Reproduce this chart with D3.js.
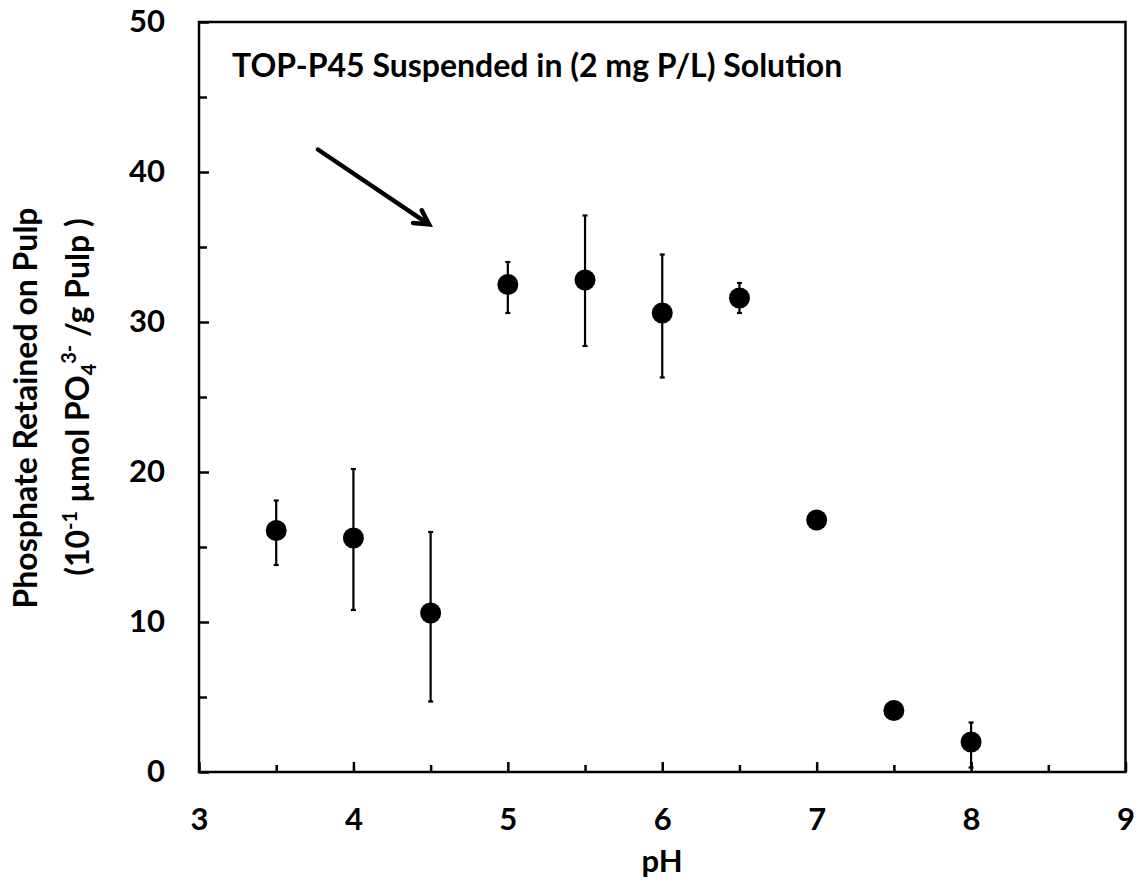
<!DOCTYPE html>
<html>
<head>
<meta charset="utf-8">
<script src="https://cdn.jsdelivr.net/npm/d3@7"></script>
<style>
  html, body { margin: 0; padding: 0; background: #fff; }
  svg text { font-family: "Lato", "Open Sans", sans-serif; font-weight: bold; fill: #000; }
</style>
</head>
<body>
<svg id="chart" width="1143" height="882"></svg>
<script>
// ---- data ----
const pH        = [3.5, 4.0, 4.5, 5.0, 5.5, 6.0, 6.5, 7.0, 7.5, 8.0];
const retained  = [16.1, 15.6, 10.6, 32.5, 32.8, 30.6, 31.6, 16.8, 4.1, 2.0];
const errUp     = [2.0, 4.6, 5.4, 1.5, 4.3, 3.9, 1.0, 0, 0, 1.3];
const errDown   = [2.3, 4.8, 5.9, 1.9, 4.4, 4.3, 1.0, 0, 0, 1.7];
const xTicks      = [3, 4, 5, 6, 7, 8, 9];
const xMinorTicks = [3.5, 4.5, 5.5, 6.5, 7.5, 8.5];
const yTicks      = [0, 10, 20, 30, 40, 50];
const yMinorTicks = [5, 15, 25, 35, 45];
const titleText = "TOP-P45 Suspended in (2 mg P/L) Solution";
const xTitle = "pH";
const arrowFrom = [3.77, 41.5];
const arrowTo   = [4.49, 36.5];

// ---- layout ----
const svg = d3.select("#chart");
const L = 199, R = 1125.5, T = 22, B = 772;
const x = d3.scaleLinear().domain([3, 9]).range([L, R]);
const y = d3.scaleLinear().domain([0, 50]).range([B, T]);

const tickFont = 31;

// minor ticks
svg.append("g").attr("transform", `translate(0,${B})`)
  .call(d3.axisBottom(x).tickValues(xMinorTicks).tickSize(-7).tickFormat(""))
  .call(g => g.select(".domain").remove())
  .call(g => g.selectAll("line").attr("stroke", "#000").attr("stroke-width", 2.5));
svg.append("g").attr("transform", `translate(${L},0)`)
  .call(d3.axisLeft(y).tickValues(yMinorTicks).tickSize(-8).tickFormat(""))
  .call(g => g.select(".domain").remove())
  .call(g => g.selectAll("line").attr("stroke", "#000").attr("stroke-width", 2.5));

// major ticks
svg.append("g").attr("transform", `translate(0,${B})`)
  .call(d3.axisBottom(x).tickValues(xTicks).tickSizeInner(-10).tickSizeOuter(0).tickPadding(36).tickFormat(d3.format("d")))
  .call(g => g.select(".domain").remove())
  .call(g => g.selectAll("line").attr("stroke", "#000").attr("stroke-width", 2.5))
  .call(g => g.selectAll("text").attr("font-size", tickFont).attr("font-family", "Lato").attr("font-weight", "bold").attr("fill", "#000"));
svg.append("g").attr("transform", `translate(${L},0)`)
  .call(d3.axisLeft(y).tickValues(yTicks).tickSizeInner(-10).tickSizeOuter(0).tickPadding(34).tickFormat(d3.format("d")))
  .call(g => g.select(".domain").remove())
  .call(g => g.selectAll("line").attr("stroke", "#000").attr("stroke-width", 2.5))
  .call(g => g.selectAll("text").attr("font-size", tickFont).attr("font-family", "Lato").attr("font-weight", "bold").attr("fill", "#000"));

// frame
svg.append("rect").attr("x", L).attr("y", T).attr("width", R - L).attr("height", B - T)
  .attr("fill", "none").attr("stroke", "#000").attr("stroke-width", 2.5);

// error bars
const data = pH.map((p, i) => ({ p, v: retained[i], up: errUp[i], dn: errDown[i] }));
const eb = svg.append("g").attr("stroke", "#000").attr("stroke-width", 2.2);
data.filter(d => d.up > 0 || d.dn > 0).forEach(d => {
  const cx = x(d.p);
  const y1 = y(d.v + d.up), y2 = y(Math.max(0, d.v - d.dn));
  eb.append("line").attr("x1", cx).attr("x2", cx).attr("y1", y1).attr("y2", y2);
  eb.append("line").attr("x1", cx - 2.5).attr("x2", cx + 2.5).attr("y1", y1).attr("y2", y1);
  eb.append("line").attr("x1", cx - 2.5).attr("x2", cx + 2.5).attr("y1", y2).attr("y2", y2);
});

// points
svg.append("g").selectAll("circle").data(data).join("circle")
  .attr("cx", d => x(d.p)).attr("cy", d => y(d.v)).attr("r", 10.5).attr("fill", "#000");

// title inside plot
svg.append("text").attr("x", 232).attr("y", 77).attr("font-size", 32).text(titleText);

// arrow
const ax1 = x(arrowFrom[0]), ay1 = y(arrowFrom[1]), ax2 = x(arrowTo[0]), ay2 = y(arrowTo[1]);
const ang = Math.atan2(ay2 - ay1, ax2 - ax1);
const hl = 16, ha = 0.5;
svg.append("line").attr("x1", ax1).attr("y1", ay1).attr("x2", ax2 - 2 * Math.cos(ang)).attr("y2", ay2 - 2 * Math.sin(ang))
  .attr("stroke", "#000").attr("stroke-width", 4.5).attr("stroke-linecap", "round");
svg.append("path")
  .attr("d", `M${ax2 - hl * Math.cos(ang - ha)},${ay2 - hl * Math.sin(ang - ha)} L${ax2},${ay2} L${ax2 - hl * Math.cos(ang + ha)},${ay2 - hl * Math.sin(ang + ha)}`)
  .attr("fill", "none").attr("stroke", "#000").attr("stroke-width", 4.5).attr("stroke-linejoin", "miter").attr("stroke-linecap", "round");

// x axis title
svg.append("text").attr("x", 662).attr("y", 872).attr("text-anchor", "middle").attr("font-size", 31).text(xTitle);

// y axis title (two lines)
svg.append("text").attr("transform", "translate(37,408) rotate(-90)")
  .attr("text-anchor", "middle").attr("font-size", 32).text("Phosphate Retained on Pulp");
const yt2 = svg.append("text").attr("transform", "translate(89,397) rotate(-90)")
  .attr("text-anchor", "middle").attr("font-size", 32);
yt2.append("tspan").text("(10");
yt2.append("tspan").attr("font-size", 20).attr("dy", -12).text("-1");
yt2.append("tspan").attr("dy", 12).text(" µmol PO");
yt2.append("tspan").attr("font-size", 20).attr("dy", 7).text("4");
yt2.append("tspan").attr("font-size", 20).attr("dy", -20).text("3-");
yt2.append("tspan").attr("dy", 13).text(" /g Pulp  )");
</script>
</body>
</html>
